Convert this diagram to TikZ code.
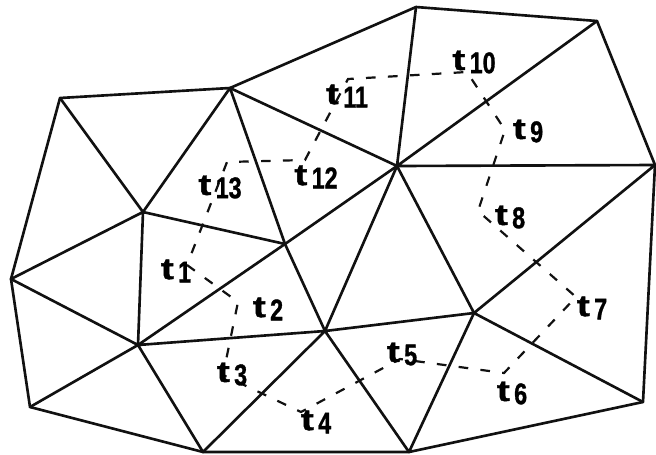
\documentclass[tikz,border=0pt]{standalone}
\usepackage{fontspec}
\setsansfont{Liberation Sans}
\newfontfamily\labfont[FakeBold=1.2]{Liberation Sans Bold}
\usepackage{graphicx}
\usepackage{tikz}
\usetikzlibrary{calc}
\definecolor{meshink}{HTML}{111111}
\newcommand{\tlab}[1]{\scalebox{1.3}[1]{t}\hspace{2.5pt}\raisebox{-1.8pt}{\scalebox{0.78}[1]{#1}}}
\tikzset{
  mesh/.style={meshink,line width=1.5pt,line cap=round,line join=round},
  route/.style={meshink,line width=1.25pt,dash pattern=on 5.5pt off 7pt},
  tri/.style={inner sep=0pt,font=\labfont\fontsize{17}{19}\selectfont}
}
\begin{document}
\begin{tikzpicture}[x=0.02cm,y=-0.02cm]
\useasboundingbox (0,0) rectangle (656,454);
\coordinate (A) at (60,98);
\coordinate (B) at (230,88);
\coordinate (C) at (143,212);
\coordinate (D) at (397,166);
\coordinate (E) at (416,7);
\coordinate (F) at (597,21);
\coordinate (G) at (655,165);
\coordinate (H) at (11,279);
\coordinate (I) at (138,345);
\coordinate (J) at (285,244);
\coordinate (K) at (325,331);
\coordinate (L) at (30,407);
\coordinate (M) at (203,452);
\coordinate (N) at (474,313);
\coordinate (O) at (409,452);
\coordinate (P) at (643,402);
\draw[mesh] (A) -- (B) -- (E) -- (F) -- (G) -- (P) -- (O) -- (M) -- (L) -- (H) -- cycle;
\draw[mesh] (A) -- (C) -- (B) -- (J) -- (C) -- (I) -- (H) -- (C);
\draw[mesh] (B) -- (D) -- (E) (F) -- (D) -- (G) -- (N) -- (P);
\draw[mesh] (D) -- (J) -- (I) -- (L) (I) -- (M) -- (K) -- (I);
\draw[mesh] (J) -- (K) -- (D) -- (N) -- (K) -- (O) -- (N);
\coordinate (r1) at (187,265);
\coordinate (r2) at (238,302);
\coordinate (r3) at (223,375);
\coordinate (r4) at (301,412);
\coordinate (r5) at (400,359);
\coordinate (r6) at (504,373);
\coordinate (r7) at (576,297);
\coordinate (r8) at (478,211);
\coordinate (r9) at (505,130);
\coordinate (r10) at (467,72);
\coordinate (r11) at (348,79);
\coordinate (r12) at (305,160);
\coordinate (r13) at (227,162);
\draw[route] (r1) -- (r2) -- (r3) -- (r4) -- (r5) -- (r6) -- (r7) -- (r8) -- (r9) -- (r10) -- (r11) -- (r12) -- (r13) -- cycle;
\node[tri] (t1) at (176,271) {\tlab{1}};
\node[tri] (t2) at (268,309) {\tlab{2}};
\node[tri] (t3) at (232,374) {\tlab{3}};
\node[tri] (t4) at (316,422) {\tlab{4}};
\node[tri] (t5) at (402,354) {\tlab{5}};
\node[tri] (t6) at (512,393) {\tlab{6}};
\node[tri] (t7) at (592,308) {\tlab{7}};
\node[tri] (t8) at (510,217) {\tlab{8}};
\node[tri] (t9) at (528,131) {\tlab{9}};
\node[tri] (t10) at (474,62) {\tlab{10}};
\node[tri] (t11) at (347,96) {\tlab{11}};
\node[tri] (t12) at (316,177) {\tlab{12}};
\node[tri] (t13) at (220,187) {\tlab{13}};
\end{tikzpicture}
\end{document}
